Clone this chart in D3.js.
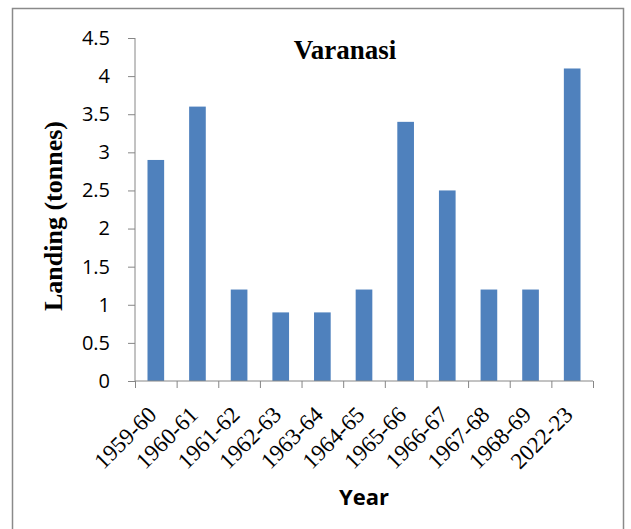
<!DOCTYPE html>
<html>
<head>
<meta charset="utf-8">
<script src="https://cdn.jsdelivr.net/npm/d3@7"></script>
<style>
  body { margin: 0; background: #fff; }
  svg { display: block; }
</style>
</head>
<body>
<div id="chart"></div>
<script>
// data
const years = ['1959-60','1960-61','1961-62','1962-63','1963-64','1964-65','1965-66','1966-67','1967-68','1968-69','2022-23'];
const landing = [2.9, 3.6, 1.2, 0.9, 0.9, 1.2, 3.4, 2.5, 1.2, 1.2, 4.1];
const yTicks = [0, 0.5, 1, 1.5, 2, 2.5, 3, 3.5, 4, 4.5];

const width = 631, height = 529;
const margin = {t:38, r:38, b:148, l:135};
const w = width - margin.l - margin.r;
const h = height - margin.t - margin.b;

const svg = d3.select('#chart')
  .append('svg')
  .attr('width', width)
  .attr('height', height);

// outer frame
svg.append('rect')
  .attr('x', 12.5).attr('y', 8.5)
  .attr('width', 611).attr('height', 540)
  .attr('fill', 'none')
  .attr('stroke', '#8a8a8a')
  .attr('stroke-width', 1.5);

const plot = svg.append('g')
  .attr('transform', `translate(${margin.l},${margin.t})`);

const scaleX = d3.scaleBand().domain(years).range([0, w]).paddingInner(0.6).paddingOuter(0.3);
const scaleTick = d3.scaleLinear().domain([0, years.length]).range([0, w]);
const scaleY = d3.scaleLinear().domain([0, 4.5]).range([h, 0]);

// bars
plot.selectAll('.bar')
  .data(landing)
  .enter()
  .append('rect')
  .attr('class', 'bar')
  .attr('x', (d, i) => scaleX(years[i]))
  .attr('width', scaleX.bandwidth())
  .attr('y', d => scaleY(d))
  .attr('height', d => h - scaleY(d))
  .style('fill', '#4f81bd');

// y axis
const axisY = d3.axisLeft(scaleY)
  .tickValues(yTicks)
  .tickSize(7)
  .tickPadding(18)
  .tickFormat(d => d);
const gy = plot.append('g').attr('class', 'axis-y').call(axisY);
gy.select('.domain').attr('stroke', '#868686').attr('d', `M0,0V${h}`);
gy.selectAll('line').attr('stroke', '#868686');
gy.selectAll('text')
  .style('font-family', '"Open Sans", sans-serif')
  .style('font-size', '20px')
  .attr('fill', '#000');

// x axis (ticks at band edges)
const axisX = d3.axisBottom(scaleTick)
  .tickValues(d3.range(years.length + 1))
  .tickSize(7)
  .tickFormat('');
const gx = plot.append('g').attr('class', 'axis-x')
  .attr('transform', `translate(0,${h})`)
  .call(axisX);
gx.select('.domain').attr('stroke', '#868686').attr('d', `M0,0H${w}`);
gx.selectAll('line').attr('stroke', '#868686');

// x tick labels
plot.selectAll('.xlabel')
  .data(years)
  .enter()
  .append('text')
  .attr('class', 'xlabel')
  .attr('transform', d => `translate(${scaleX(d) + scaleX.bandwidth() / 2 + 2},${h + 35}) rotate(-45)`)
  .attr('text-anchor', 'end')
  .style('font-family', '"Liberation Serif", "Times New Roman", serif')
  .style('font-size', '23px')
  .text(d => d);

// title
svg.append('text')
  .attr('x', 345).attr('y', 59)
  .attr('text-anchor', 'middle')
  .style('font-family', '"Liberation Serif", "Times New Roman", serif')
  .style('font-weight', 'bold')
  .style('font-size', '27px')
  .text('Varanasi');

// y label
svg.append('text')
  .attr('transform', 'translate(62,216) rotate(-90)')
  .attr('text-anchor', 'middle')
  .style('font-family', '"Liberation Serif", "Times New Roman", serif')
  .style('font-weight', 'bold')
  .style('font-size', '26px')
  .text('Landing (tonnes)');

// x label
svg.append('text')
  .attr('x', 364).attr('y', 505)
  .attr('text-anchor', 'middle')
  .style('font-family', '"Open Sans", sans-serif')
  .style('font-weight', 'bold')
  .style('font-size', '22px')
  .text('Year');
</script>
</body>
</html>
